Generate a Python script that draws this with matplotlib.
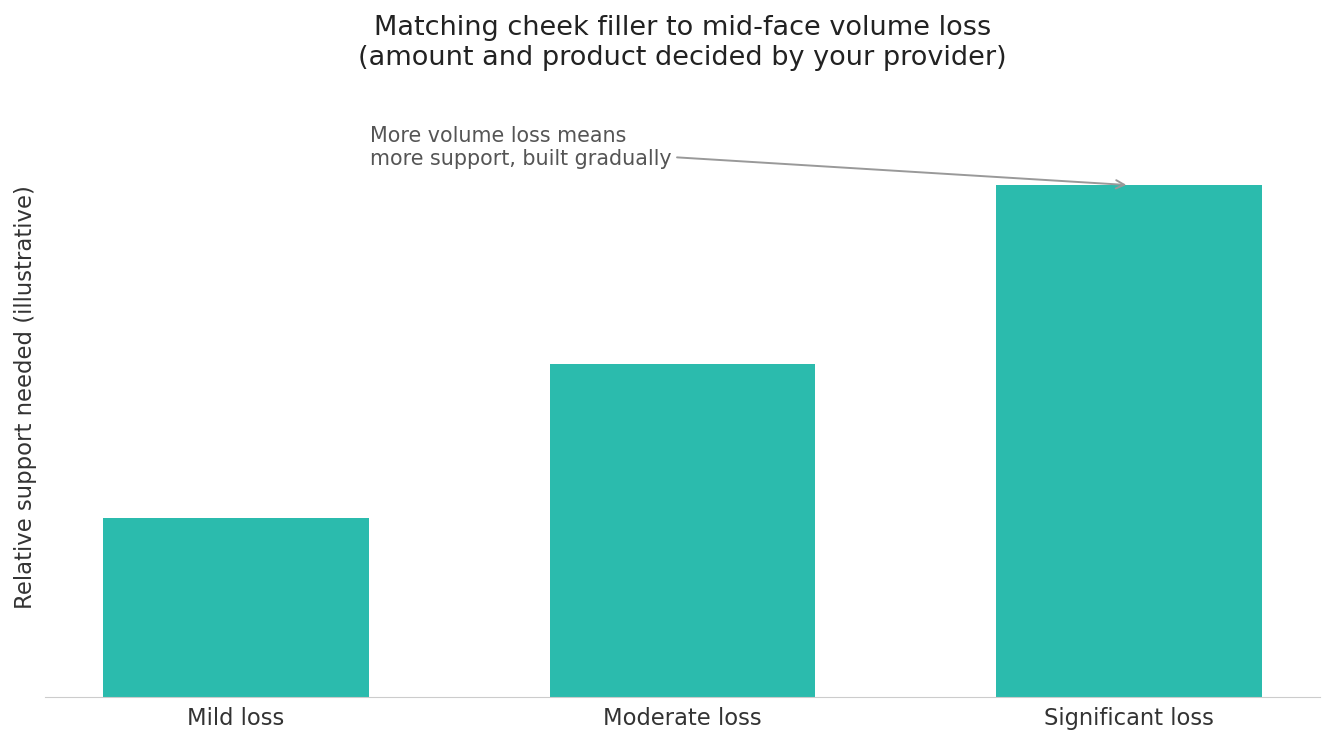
import matplotlib.pyplot as plt

categories = ["Mild loss", "Moderate loss", "Significant loss"]
support = [35, 65, 100]

fig = plt.figure(figsize=(13.35, 7.43), dpi=100)
ax = fig.add_axes([0.0337, 0.062, 0.9551, 0.808])

ax.bar(categories, support, width=0.595, color="#2BBBAD")
ax.set_ylim(0, 117.3)

ax.set_yticks([])
ax.tick_params(axis="x", length=0, labelsize=16.3, labelcolor="#333333", pad=7)
for side in ["top", "right", "left"]:
    ax.spines[side].set_visible(False)
ax.spines["bottom"].set_color("#cccccc")
ax.set_ylabel("Relative support needed (illustrative)", fontsize=16.4, color="#333333", labelpad=6)

ax.annotate("More volume loss means\nmore support, built gradually",
            xy=(2, support[2]), xytext=(0.30, 107.3),
            ha="left", va="center", fontsize=14.9, color="#555555",
            arrowprops=dict(arrowstyle="->", color="#999999", lw=1.4))

# title centred over the axes, not the figure
fig.suptitle("Matching cheek filler to mid-face volume loss\n(amount and product decided by your provider)",
             fontsize=19.5, color="#222222", x=0.5113, y=0.98)

fig.savefig("out.png", dpi=100)
